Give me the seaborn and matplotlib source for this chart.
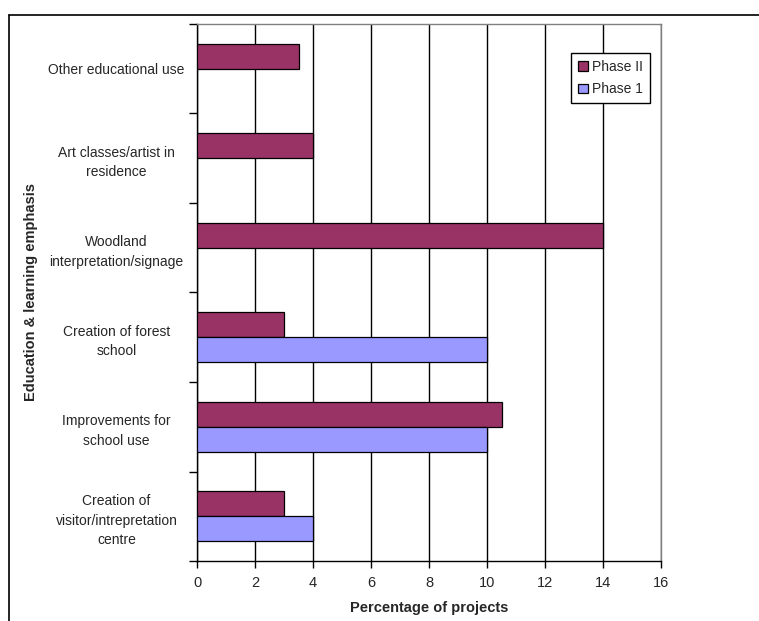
import numpy as np
import pandas as pd
import matplotlib
matplotlib.use("Agg")
import matplotlib.pyplot as plt
import seaborn as sns
from matplotlib.lines import Line2D

categories = [
    "Other educational use",
    "Art classes/artist in\nresidence",
    "Woodland\ninterpretation/signage",
    "Creation of forest\nschool",
    "Improvements for\nschool use",
    "Creation of\nvisitor/intrepretation\ncentre",
]
phase_ii = [3.5, 4, 14, 3, 10.5, 3]
phase_1 = [np.nan, np.nan, np.nan, 10, 10, 4]
series_names = ["Phase II", "Phase 1"]
colors = ["#993366", "#9999FF"]

df = pd.DataFrame({
    "category": categories * 2,
    "value": phase_ii + phase_1,
    "phase": [series_names[0]] * len(categories) + [series_names[1]] * len(categories),
})

sns.set_style("white")
plt.rcParams["font.family"] = ["Liberation Sans", "DejaVu Sans"]

fig = plt.figure(figsize=(7.59, 6.21), dpi=100)
ax = fig.add_axes([0.2596, 0.0966, 0.6113, 0.8648])

sns.barplot(data=df, y="category", x="value", hue="phase", order=categories,
            hue_order=series_names, palette=colors, orient="h", width=0.56,
            edgecolor="black", linewidth=0.9, saturation=1, ax=ax, zorder=3)

ax.set_xlim(0, 16)
ax.set_ylim(5.5, -0.5)
ax.set_xticks(np.arange(0, 17, 2))
ax.tick_params(axis="x", labelsize=10.5, direction="out", length=5, width=1,
               color="black", pad=6, bottom=True)
ax.set_yticks(range(len(categories)))
ax.set_yticklabels(categories, ha="center", fontsize=10, linespacing=1.5)
ax.tick_params(axis="y", length=0, pad=58)
ax.set_yticks(np.arange(-0.5, 6, 1), minor=True)
ax.tick_params(axis="y", which="minor", direction="out", length=6, width=1,
               color="black", left=True)

ax.grid(axis="x", color="black", linewidth=1, zorder=0)
ax.set_axisbelow(True)
for s in ["left", "bottom"]:
    ax.spines[s].set_color("black")
    ax.spines[s].set_linewidth(1)
for s in ["top", "right"]:
    ax.spines[s].set_color("#808080")
    ax.spines[s].set_linewidth(1)

ax.set_xlabel("Percentage of projects", fontsize=10.5, fontweight="bold", labelpad=8)
ax.set_ylabel("Education & learning emphasis", fontsize=10.5, fontweight="bold")
ax.yaxis.set_label_coords(-159 / 464, 0.5)

ax.legend(loc="upper left", bbox_to_anchor=(0.806, 0.946), fontsize=10,
          frameon=True, fancybox=False, edgecolor="black", framealpha=1,
          handlelength=0.7, handleheight=0.7, handletextpad=0.3,
          borderpad=0.5, labelspacing=0.6, borderaxespad=0)

# outer chart border (top and left)
fig.add_artist(Line2D([9 / 759, 1], [1 - 15 / 621, 1 - 15 / 621],
                      transform=fig.transFigure, color="black", linewidth=1.2))
fig.add_artist(Line2D([9 / 759, 9 / 759], [1 - 15 / 621, 0],
                      transform=fig.transFigure, color="black", linewidth=1.2))

fig.savefig("out.png", dpi=100)
